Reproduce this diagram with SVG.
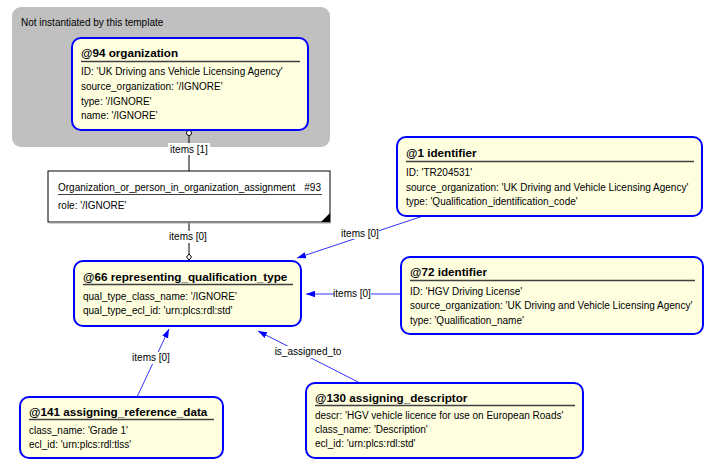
<svg xmlns="http://www.w3.org/2000/svg" width="714" height="470" viewBox="0 0 714 470">
<defs>
<style>
.t{font-family:"Liberation Sans",Arial,sans-serif;font-size:10px;fill:#000}
.b{font-family:"Liberation Sans",Arial,sans-serif;font-size:11.7px;font-weight:bold;fill:#000}
.node{fill:#ffffe0;stroke:#0000ff;stroke-width:2}
.ul{stroke:#404040;stroke-width:1.5}
.con{stroke:#3333ff;stroke-width:1;fill:none}
.blk{stroke:#000;stroke-width:1;fill:none}
.lbl{fill:#fff}
</style>
<marker id="arr" viewBox="0 0 10 10" refX="10" refY="5" markerWidth="9" markerHeight="9" markerUnits="userSpaceOnUse" orient="auto">
<path d="M0,1.5 L10,5 L0,8.5 Z" fill="#0000ff"/>
</marker>
</defs>
<rect width="714" height="470" fill="#fff"/>

<g id="template-group">
<rect x="12" y="7" width="318" height="140" rx="9" fill="#c0c0c0"/>
<text class="t" x="21" y="26">Not instantiated by this template</text>
</g>

<g id="connectors">
<line class="blk" x1="189" y1="136" x2="189" y2="172"/>
<circle cx="189" cy="133" r="2.5" fill="#fff" stroke="#000" stroke-width="1"/>
<rect class="lbl" x="168" y="143" width="42" height="12"/>
<text class="t" x="189" y="153" text-anchor="middle">items [1]</text>

<line class="blk" x1="189" y1="222" x2="189" y2="254"/>
<path d="M189,254 L191.5,257 L189,260 L186.5,257 Z" fill="#fff" stroke="#000" stroke-width="1"/>
<rect class="lbl" x="168" y="231" width="42" height="12"/>
<text class="t" x="188" y="240" text-anchor="middle">items [0]</text>

<line class="con" x1="423" y1="216" x2="297" y2="258" marker-end="url(#arr)"/>
<rect class="lbl" x="342" y="228" width="37" height="11"/>
<text class="t" x="360" y="237" text-anchor="middle">items [0]</text>

<line class="con" x1="401" y1="294" x2="306" y2="294" marker-end="url(#arr)"/>
<rect class="lbl" x="334" y="288" width="37" height="11"/>
<text class="t" x="352" y="297" text-anchor="middle">items [0]</text>

<line class="con" x1="137" y1="397" x2="169" y2="329" marker-end="url(#arr)"/>
<rect class="lbl" x="132" y="352" width="38" height="12"/>
<text class="t" x="151" y="361" text-anchor="middle">items [0]</text>

<line class="con" x1="360" y1="383" x2="258" y2="331" marker-end="url(#arr)"/>
<rect class="lbl" x="276" y="346" width="64" height="12"/>
<text class="t" x="308" y="355" text-anchor="middle">is_assigned_to</text>
</g>

<g id="n94">
<rect class="node" x="72" y="38" width="236" height="92" rx="9"/>
<text class="b" x="81" y="57">@94 organization</text>
<line class="ul" x1="81" y1="61.5" x2="300" y2="61.5"/>
<text class="t" x="81" y="75">ID: 'UK Driving ans Vehicle Licensing Agency'</text>
<text class="t" x="81" y="90">source_organization: '/IGNORE'</text>
<text class="t" x="81" y="104.5">type: '/IGNORE'</text>
<text class="t" x="81" y="119">name: '/IGNORE'</text>
</g>

<g id="n93">
<rect x="48" y="171" width="282" height="51" fill="#fff" stroke="#000" stroke-width="1"/>
<line x1="49" y1="223" x2="331" y2="223" stroke="#a0a0a0" stroke-width="1"/>
<path d="M330,213 L330,222 L321,222 Z" fill="#000"/>
<text class="t" x="58" y="191">Organization_or_person_in_organization_assignment</text>
<text class="t" x="321" y="191" text-anchor="end">#93</text>
<line x1="58" y1="194.5" x2="322" y2="194.5" stroke="#404040" stroke-width="1"/>
<text class="t" x="58" y="209">role: '/IGNORE'</text>
</g>

<g id="n66">
<rect class="node" x="74" y="261" width="227" height="65" rx="9"/>
<text class="b" x="83" y="281">@66 representing_qualification_type</text>
<line class="ul" x1="83" y1="284.5" x2="293" y2="284.5"/>
<text class="t" x="83" y="300">qual_type_class_name: '/IGNORE'</text>
<text class="t" x="83" y="314">qual_type_ecl_id: 'urn:plcs:rdl:std'</text>
</g>

<g id="n1">
<rect class="node" x="397" y="137" width="305" height="79" rx="9"/>
<text class="b" x="406" y="157">@1 identifier</text>
<line class="ul" x1="406" y1="161.5" x2="694" y2="161.5"/>
<text class="t" x="406" y="176">ID: 'TR204531'</text>
<text class="t" x="406" y="191">source_organization: 'UK Driving and Vehicle Licensing Agency'</text>
<text class="t" x="406" y="205">type: 'Qualification_identification_code'</text>
</g>

<g id="n72">
<rect class="node" x="401" y="257" width="302" height="77" rx="9"/>
<text class="b" x="410" y="276">@72 identifier</text>
<line class="ul" x1="410" y1="280.5" x2="695" y2="280.5"/>
<text class="t" x="410" y="295">ID: 'HGV Driving License'</text>
<text class="t" x="410" y="309">source_organization: 'UK Driving and Vehicle Licensing Agency'</text>
<text class="t" x="410" y="324">type: 'Qualification_name'</text>
</g>

<g id="n141">
<rect class="node" x="20" y="397" width="203" height="61" rx="9"/>
<text class="b" x="29" y="416">@141 assigning_reference_data</text>
<line class="ul" x1="29" y1="419.5" x2="214" y2="419.5"/>
<text class="t" x="29" y="434">class_name: 'Grade 1'</text>
<text class="t" x="29" y="448">ecl_id: 'urn:plcs:rdl:tlss'</text>
</g>

<g id="n130">
<rect class="node" x="306" y="383" width="277" height="75" rx="9"/>
<text class="b" x="315" y="402">@130 assigning_descriptor</text>
<line class="ul" x1="315" y1="405.5" x2="575" y2="405.5"/>
<text class="t" x="315" y="419">descr: 'HGV vehicle licence for use on European Roads'</text>
<text class="t" x="315" y="433">class_name: 'Description'</text>
<text class="t" x="315" y="447">ecl_id: 'urn:plcs:rdl:std'</text>
</g>
</svg>
